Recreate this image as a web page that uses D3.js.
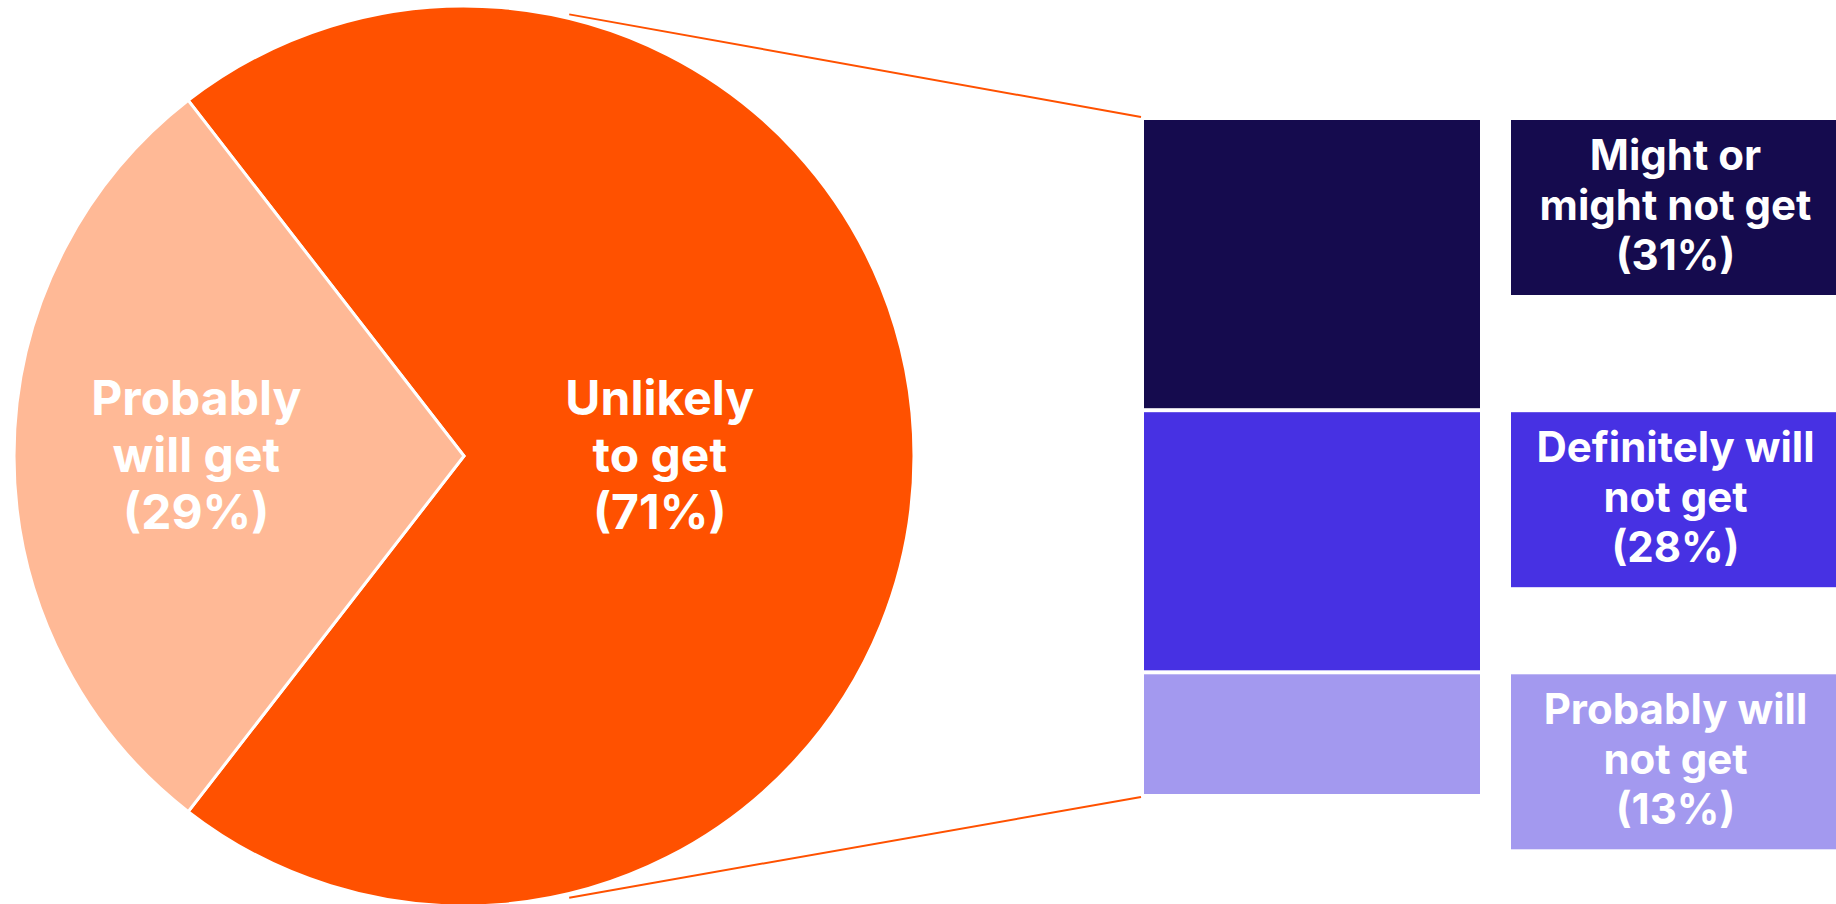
<!DOCTYPE html>
<html>
<head>
<meta charset="utf-8">
<script src="https://cdn.jsdelivr.net/npm/d3@7"></script>
<style>
	body { margin: 0; background: #fff; }
	svg { display: block; }
	text { font-family: Inter, "Noto Sans", sans-serif; font-weight: 700; fill: #fff; }
</style>
</head>
<body>
<svg class="chart" width="1836" height="904"></svg>
<script>
// pie: overall likelihood
const pieLabels = [["Unlikely", "to get", "(71%)"], ["Probably", "will get", "(29%)"]]
const pieValues = [71, 29]

// bar: breakdown of "unlikely to get"
const barLabels = [
	["Might or", "might not get", "(31%)"],
	["Definitely will", "not get", "(28%)"],
	["Probably will", "not get", "(13%)"]
]
const barValues = [31, 28, 13]

const pieColors = ["#ff5100", "#ffb996"]
const barColors = ["#150b4e", "#4731e3", "#a399ef"]

const svg = d3.select("svg.chart")

const cx = 464
const cy = 456
const radius = 450

// light slice sits centred on the left side
const startAngle = -Math.PI / 2 + (pieValues[1] / d3.sum(pieValues)) * Math.PI

const pie = d3.pie()
	.sort(null)
	.startAngle(startAngle)
	.endAngle(startAngle + 2 * Math.PI)

const arc = d3.arc()
	.innerRadius(0)
	.outerRadius(radius)

const slices = pie(pieValues)

const pieGroup = svg.append("g")
	.attr("transform", `translate(${cx}, ${cy})`)

pieGroup
	.selectAll("path")
	.data(slices)
	.enter()
	.append("path")
	.attr("d", arc)
	.attr("fill", (d, i) => pieColors[i])
	.attr("stroke", "#fff")
	.attr("stroke-width", 3)
	.attr("stroke-linejoin", "miter")

// label distance from centre, as share of radius
const labelDist = [0.435, 0.595]

const pieText = pieGroup
	.selectAll("text.pie-label")
	.data(slices)
	.enter()
	.append("text")
	.attr("class", "pie-label")
	.attr("text-anchor", "middle")
	.attr("font-size", 48)
	.attr("transform", (d, i) => {
		const a = (d.startAngle + d.endAngle) / 2
		const x = Math.sin(a) * radius * labelDist[i]
		return `translate(${x}, 0)`
	})

pieText
	.selectAll("tspan")
	.data((d, i) => pieLabels[i])
	.enter()
	.append("tspan")
	.attr("x", 0)
	.attr("y", (d, j) => -41 + j * 57)
	.text(d => d)

// stacked bar
const barX = 1144
const barW = 336
const barTop = 120
const barBottom = 794
const gap = 4

const stackScale = d3.scaleLinear()
	.domain([0, d3.sum(barValues)])
	.range([barTop, barBottom])

const cumulative = barValues.map((v, i) => d3.sum(barValues.slice(0, i)))

svg.append("g")
	.selectAll("rect")
	.data(barValues)
	.enter()
	.append("rect")
	.attr("x", barX)
	.attr("y", (d, i) => stackScale(cumulative[i]) + (i > 0 ? gap / 2 : 0))
	.attr("width", barW)
	.attr("height", (d, i) => {
		const y0 = stackScale(cumulative[i]) + (i > 0 ? gap / 2 : 0)
		const y1 = stackScale(cumulative[i] + d) - (i < barValues.length - 1 ? gap / 2 : 0)
		return y1 - y0
	})
	.attr("fill", (d, i) => barColors[i])

// connector lines from pie edge to bar corners
const connectAngle = 13.4 * Math.PI / 180
const lines = [
	{ a: connectAngle, x2: barX - 3, y2: stackScale(0) - 3 },
	{ a: Math.PI - connectAngle, x2: barX - 3, y2: stackScale(d3.sum(barValues)) + 3 }
]

svg.append("g")
	.selectAll("line")
	.data(lines)
	.enter()
	.append("line")
	.attr("x1", d => cx + Math.sin(d.a) * (radius + 4))
	.attr("y1", d => cy - Math.cos(d.a) * (radius + 4))
	.attr("x2", d => d.x2)
	.attr("y2", d => d.y2)
	.attr("stroke", pieColors[0])
	.attr("stroke-width", 2)

// label boxes on the right
const boxX = 1511
const boxW = 325
const boxH = 175

const boxGroups = svg.append("g")
	.selectAll("g")
	.data(barValues)
	.enter()
	.append("g")
	.attr("transform", (d, i) => `translate(${boxX}, ${stackScale(cumulative[i]) + (i > 0 ? gap / 2 : 0)})`)

boxGroups
	.append("rect")
	.attr("width", boxW)
	.attr("height", boxH)
	.attr("fill", (d, i) => barColors[i])

boxGroups
	.append("text")
	.attr("text-anchor", "middle")
	.attr("font-size", 42)
	.selectAll("tspan")
	.data((d, i) => barLabels[i])
	.enter()
	.append("tspan")
	.attr("x", boxW / 2 + 2)
	.attr("y", (d, j) => 50 + j * 50)
	.text(d => d)
</script>
</body>
</html>
